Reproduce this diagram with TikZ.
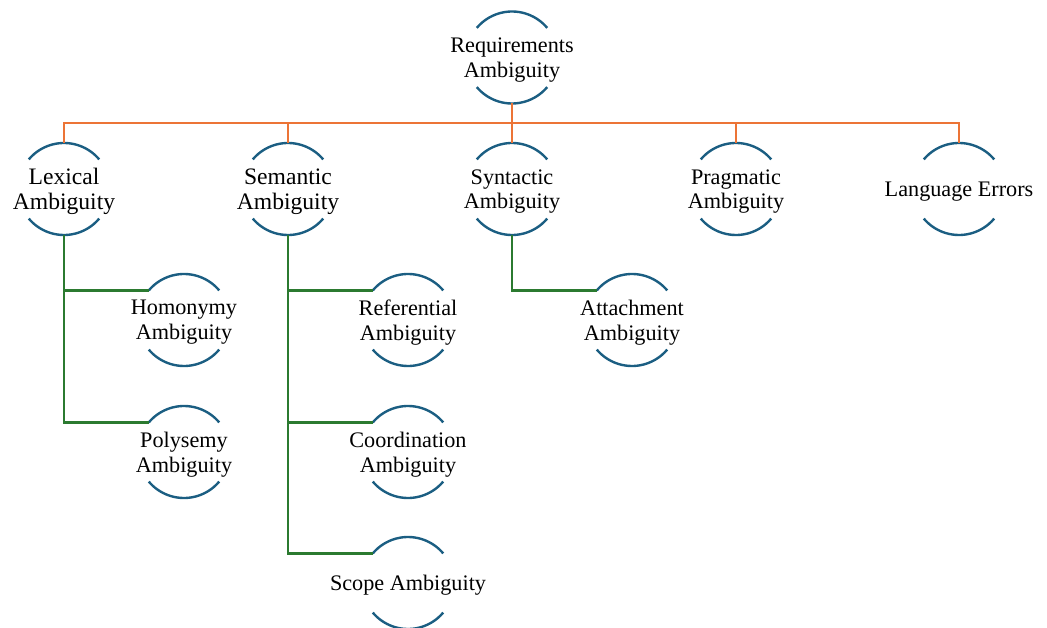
\documentclass[tikz,border=0pt]{standalone}
\usepackage{fontspec}
\setmainfont{Liberation Serif}
\definecolor{arcblue}{HTML}{1B5E82}
\definecolor{busorange}{HTML}{EC7436}
\definecolor{branchgreen}{HTML}{2B7A30}
\tikzset{
  hub/.style={circle, minimum size=92pt, inner sep=0pt, outer sep=0pt,
    label={[align=center, yshift=-2.5pt, font=\fontsize{22.2}{24.8}\selectfont]center:#1}},
  bighub/.style={circle, minimum size=92pt, inner sep=0pt, outer sep=0pt,
    label={[align=center, yshift=-2.5pt, font=\fontsize{23.6}{25}\selectfont]center:#1}},
  rim/.style={draw=arcblue, line width=2.4pt},
  bus/.style={draw=busorange, line width=2.3pt},
  branch/.style={draw=branchgreen, line width=2.2pt},
}
% top and bottom rims of a hub circle
\newcommand{\rims}[1]{%
  \draw[rim] (#1.40) arc[start angle=40, end angle=140, radius=46pt];
  \draw[rim] (#1.220) arc[start angle=220, end angle=320, radius=46pt];}
\begin{document}
\begin{tikzpicture}[x=1pt, y=-1pt]
\useasboundingbox (0,0) rectangle (1047,628);

\node[hub={Requirements\\Ambiguity}] (req) at (512,57.5) {};

\node[bighub={Lexical\\Ambiguity}] (lex) at (64,189) {};
\node[bighub={Semantic\\Ambiguity}] (sem) at (288,189) {};
\node[hub={Syntactic\\Ambiguity}] (syn) at (512,189) {};
\node[hub={Pragmatic\\Ambiguity}] (prag) at (736,189) {};
\node[hub={Language Errors}] (lang) at (959,189) {};

\node[hub={Homonymy\\Ambiguity}] (hom) at (184,320) {};
\node[hub={Polysemy\\Ambiguity}] (poly) at (184,452) {};
\node[hub={Referential\\Ambiguity}] (ref) at (408,320) {};
\node[hub={Coordination\\Ambiguity}] (coord) at (408,452) {};
\node[hub={Scope Ambiguity}] (scope) at (408,583) {};
\node[hub={Attachment\\Ambiguity}] (att) at (632,320) {};

\foreach \n in {req,lex,sem,syn,prag,lang,hom,poly,ref,coord,scope,att}{\rims{\n}}

% orange bus from the root to the first level
\coordinate (busmid) at (512,123);
\draw[bus] (req.south) -- (busmid);
\draw[bus] (lex.north) |- (busmid) -| (lang.north);
\draw[bus] (sem.north) -- (sem.north |- busmid);
\draw[bus] (syn.north) -- (syn.north |- busmid);
\draw[bus] (prag.north) -- (prag.north |- busmid);

% green branches to the second level
\draw[branch] (lex.south) |- (hom.140);
\draw[branch] (lex.south) |- (poly.140);
\draw[branch] (sem.south) |- (ref.140);
\draw[branch] (sem.south) |- (coord.140);
\draw[branch] (sem.south) |- (scope.140);
\draw[branch] (syn.south) |- (att.140);
\end{tikzpicture}
\end{document}
